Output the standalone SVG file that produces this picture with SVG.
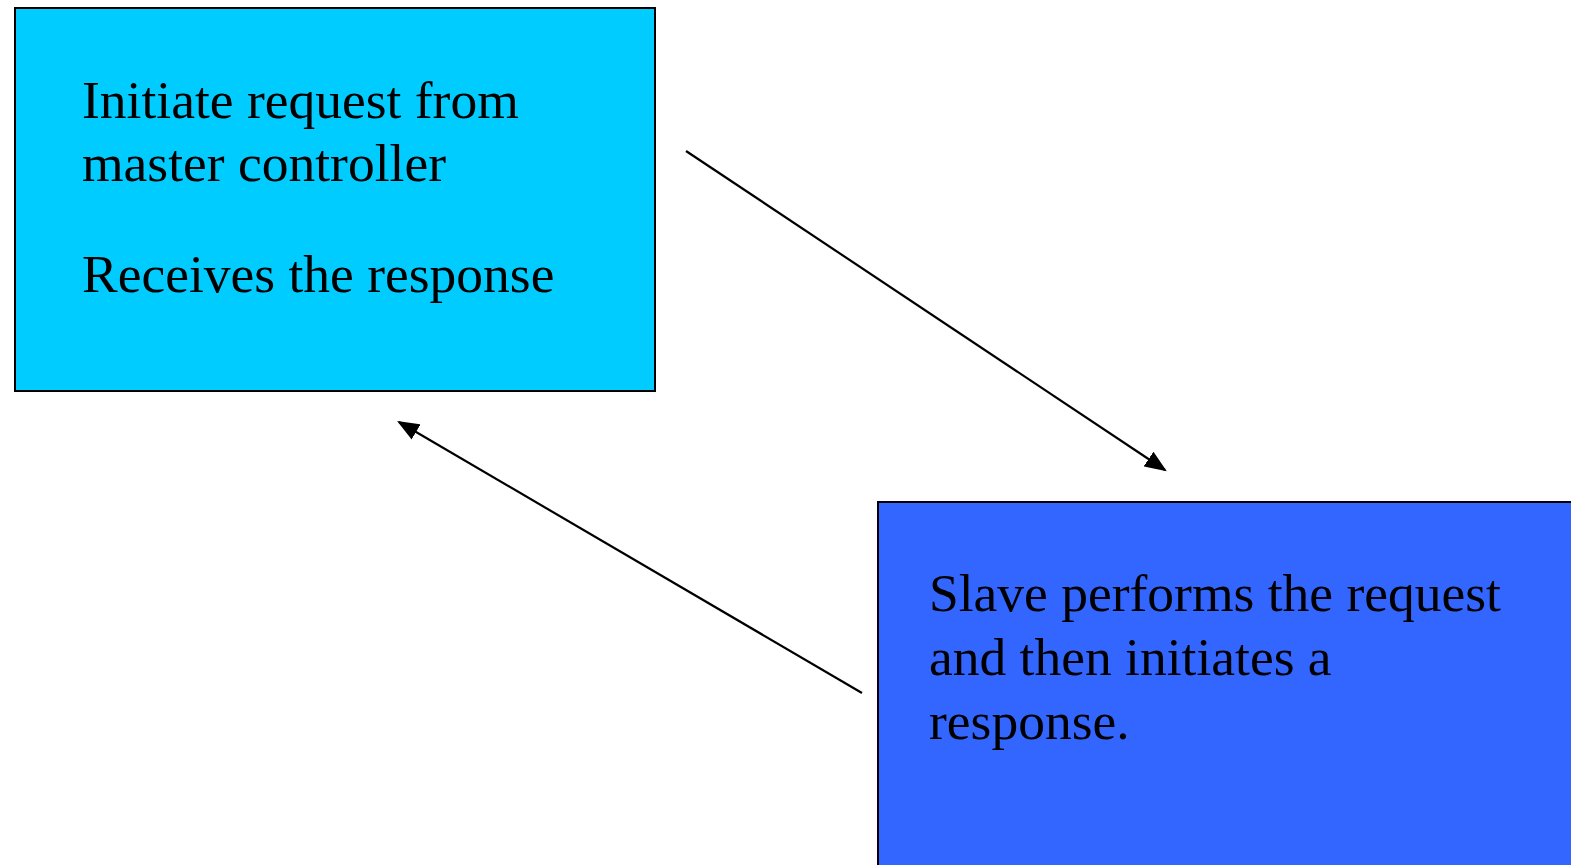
<svg xmlns="http://www.w3.org/2000/svg" width="1571" height="865" viewBox="0 0 1571 865">
<style>
.box{stroke:#000;stroke-width:2}
.t{font-family:"Liberation Serif","Times New Roman",serif;font-size:53.5px;fill:#000}
.c{stroke:#000;stroke-width:2.2;fill:none}
</style>
<defs>
<marker id="ah" markerWidth="10" markerHeight="8" refX="9" refY="4" orient="auto" markerUnits="strokeWidth">
<path d="M0,0 L10,4 L0,8 z" fill="#000"/>
</marker>
</defs>
<rect width="1571" height="865" fill="#fff"/>
<g id="master">
<rect class="box" x="15" y="8" width="640" height="383" fill="#00CCFF"/>
<text class="t" x="82" y="118">Initiate request from</text>
<text class="t" x="82" y="181">master controller</text>
<text class="t" x="82" y="292">Receives the response</text>
</g>
<g id="slave">
<rect class="box" x="878" y="502" width="700" height="370" fill="#3366FF"/>
<text class="t" x="929" y="611">Slave performs the request</text>
<text class="t" x="929" y="675">and then initiates a</text>
<text class="t" x="929" y="739">response.</text>
</g>
<g id="connectors">
<line class="c" x1="686" y1="151" x2="1165" y2="470" marker-end="url(#ah)"/>
<line class="c" x1="862" y1="693" x2="399" y2="422" marker-end="url(#ah)"/>
</g>
</svg>
